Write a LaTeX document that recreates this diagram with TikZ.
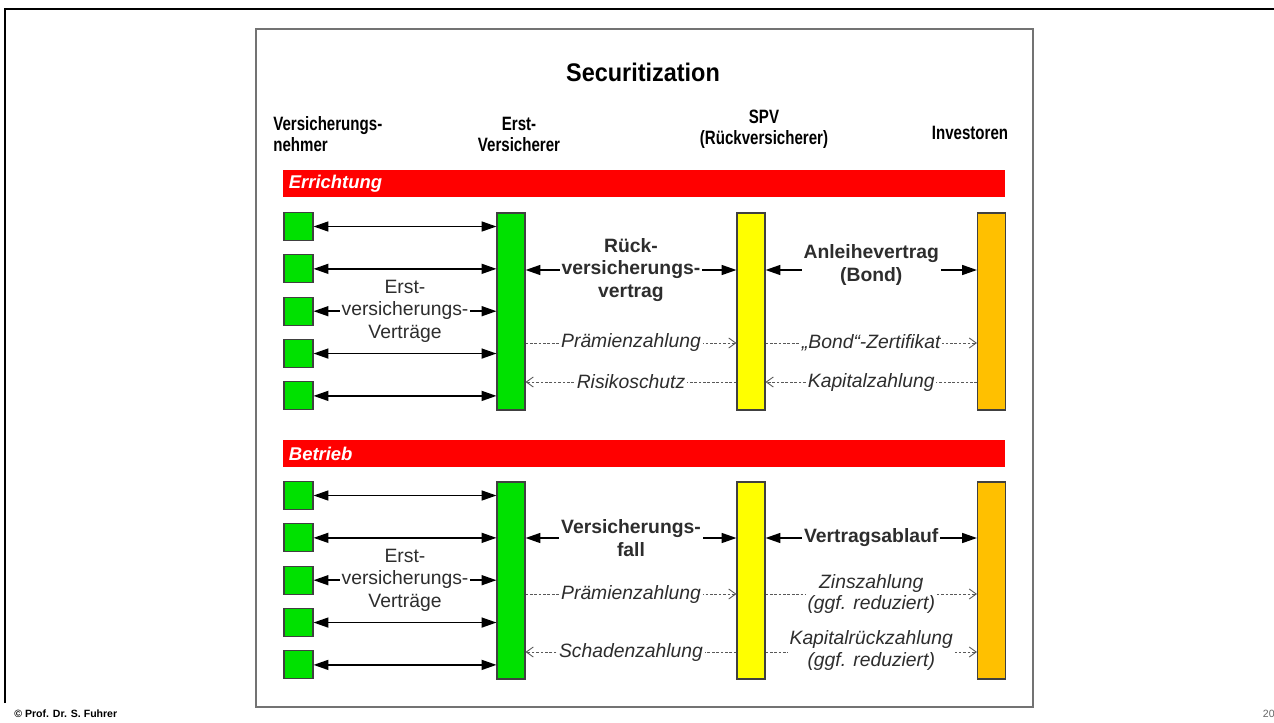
\documentclass[tikz,border=0pt]{standalone}
\usepackage{fontspec}
\setmainfont{Liberation Sans}
\newfontfamily\headfont[FakeStretch=0.78]{Liberation Sans}
\newfontfamily\titlefont[FakeStretch=0.92]{Liberation Sans}
\usetikzlibrary{arrows.meta}
\definecolor{vngreen}{RGB}{0,225,0}
\definecolor{spvyellow}{RGB}{255,255,0}
\definecolor{invorange}{RGB}{255,192,0}
\definecolor{phasered}{RGB}{255,0,0}
\definecolor{labelgray}{RGB}{45,45,45}

\begin{document}
\begin{tikzpicture}[x=0.02cm, y=-0.02cm,
  vn/.style={draw=black!75, fill=vngreen, line width=0.6pt, minimum width=0.58cm, minimum height=0.56cm, inner sep=0pt},
  partybar/.style={draw=black!75, line width=0.6pt, minimum width=0.56cm, minimum height=3.94cm, inner sep=0pt},
  phasebar/.style={fill=phasered, minimum width=14.44cm, minimum height=0.54cm, inner sep=0pt},
  phasetext/.style={text=white, font=\fontsize{10.5}{12}\selectfont\bfseries\itshape, anchor=west},
  colhead/.style={font=\headfont\fontsize{11}{12}\selectfont\bfseries, align=center, inner sep=0pt},
  dbl/.style={{Triangle[length=8.5pt,width=5.7pt]}-{Triangle[length=8.5pt,width=5.7pt]}, line width=0.9pt},
  payflow/.style={-{Straight Barb[length=4pt,width=5.7pt]}, dash pattern=on 1.5pt off 1pt, black!65, line width=0.5pt},
  deal/.style={fill=white, inner sep=1pt, align=center, text=labelgray},
  plainlabel/.style={deal, font=\fontsize{11}{13}\selectfont},
  boldlabel/.style={deal, font=\fontsize{11}{13}\selectfont\bfseries},
  paylabel/.style={deal, font=\fontsize{11}{12.5}\selectfont\itshape}]
\useasboundingbox (0,0) rectangle (1274,723);
\draw [line width=1.1pt] (5,703) -- (5,9) -- (1274,9);
\draw [black!55, line width=1.3pt] (256,29) rectangle (1033,707);

\node [font=\titlefont\fontsize{14.5}{16}\selectfont\bfseries] (title) at (643,72) {Securitization};
\node [colhead, align=left, anchor=west] (hvn) at (273,134.5) {Versicherungs-\\nehmer};
\node [colhead] (hev) at (519,134.5) {Erst-\\Versicherer};
\node [colhead] (hspv) at (764,129) {SPV\\(Rückversicherer)};
\node [colhead] (hinv) at (970,133) {Investoren};

\node [phasebar] (err) at (644,183.5) {};
\node [phasetext] at (err.west) {Errichtung};
\node [phasebar] (betr) at (644,453.5) {};
\node [phasetext] at (betr.west) {Betrieb};

\node [partybar, fill=vngreen] (ev) at (511,311.5) {};
\node [partybar, fill=spvyellow] (spv) at (751,311.5) {};
\node [partybar, fill=invorange] (inv) at (991.5,311.5) {};
\node [partybar, fill=vngreen] (evb) at (511,580.5) {};
\node [partybar, fill=spvyellow] (spvb) at (751,580.5) {};
\node [partybar, fill=invorange] (invb) at (991.5,580.5) {};

\foreach \i in {1,...,5} {
  \node [vn] (vn\i) at (298.5,{226.5+42.35*(\i-1)}) {};
  \node [vn] (vnb\i) at (298.5,{495.5+42.35*(\i-1)}) {};
}
\foreach \i in {1,2,4,5} {
  \draw [dbl] (vn\i) -- (ev.west |- vn\i);
  \draw [dbl] (vnb\i) -- (evb.west |- vnb\i);
}
\draw [dbl] (vn3) -- (ev.west |- vn3) node [plainlabel, midway] {Erst-\\versicherungs-\\Verträge};
\draw [dbl] (vnb3) -- (evb.west |- vnb3) node [plainlabel, midway] {Erst-\\versicherungs-\\Verträge};

\coordinate (ta) at (640,270);
\coordinate (tb) at (640,343);
\coordinate (tc) at (640,382);
\coordinate (ba) at (640,538);
\coordinate (bb) at (640,594);
\coordinate (bc) at (640,652);

\draw [dbl] (ev.east |- ta) -- (spv.west |- ta) node [boldlabel, midway] {Rück-\\versicherungs-\\vertrag};
\draw [payflow] (ev.east |- tb) -- (spv.west |- tb) node [paylabel, midway] {Prämienzahlung};
\draw [payflow] (spv.west |- tc) -- (ev.east |- tc) node [paylabel, midway] {Risikoschutz};
\draw [dbl] (spv.east |- ta) -- (inv.west |- ta) node [boldlabel, midway, yshift=2.8pt] {Anleihevertrag\\(Bond)};
\draw [payflow] (spv.east |- tb) -- (inv.west |- tb) node [paylabel, midway] {„Bond“-Zertifikat};
\draw [payflow] (inv.west |- tc) -- (spv.east |- tc) node [paylabel, midway] {Kapitalzahlung};

\draw [dbl] (evb.east |- ba) -- (spvb.west |- ba) node [boldlabel, midway] {Versicherungs-\\fall};
\draw [payflow] (evb.east |- bb) -- (spvb.west |- bb) node [paylabel, midway] {Prämienzahlung};
\draw [payflow] (spvb.west |- bc) -- (evb.east |- bc) node [paylabel, midway] {Schadenzahlung};
\draw [dbl] (spvb.east |- ba) -- (invb.west |- ba) node [boldlabel, midway] {Vertragsablauf};
\draw [payflow] (spvb.east |- bb) -- (invb.west |- bb) node [paylabel, midway] {Zinszahlung\\(ggf. reduziert)};
\draw [payflow] (spvb.east |- bc) -- (invb.west |- bc) node [paylabel, midway, yshift=1pt] {Kapitalrückzahlung\\(ggf. reduziert)};

\node [font=\fontsize{6}{7}\selectfont\bfseries, anchor=west, inner sep=0pt] (copy) at (14,714) {© Prof. Dr. S. Fuhrer};
\node [font=\fontsize{6}{7}\selectfont, text=black!60, anchor=east, inner sep=0pt] (page) at (1275,714) {20};
\end{tikzpicture}
\end{document}
